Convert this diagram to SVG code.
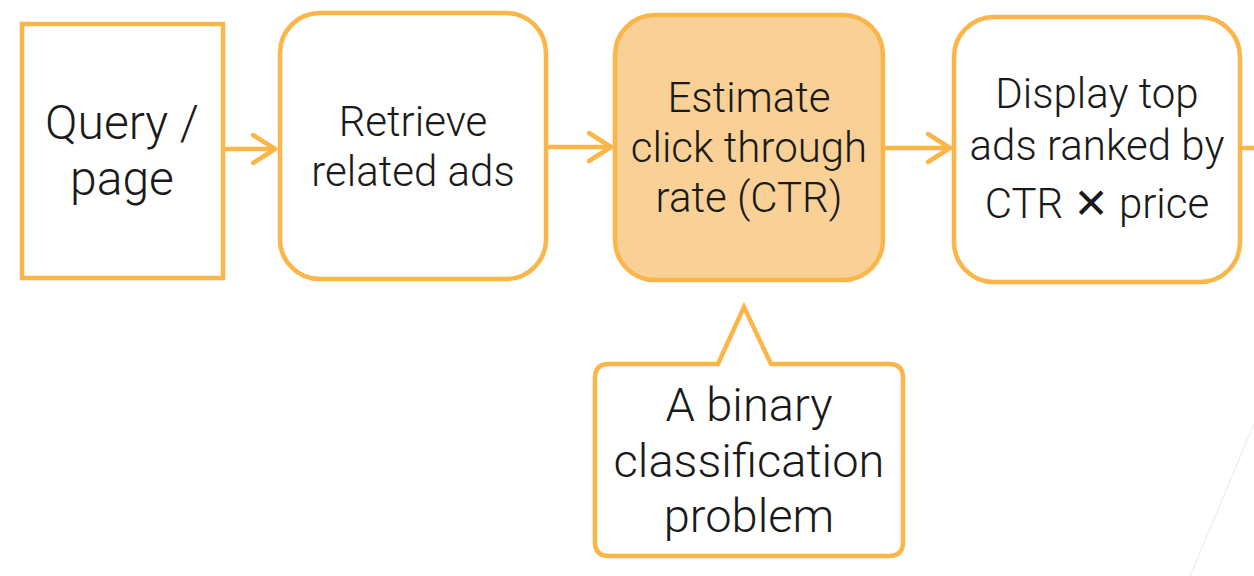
<svg xmlns="http://www.w3.org/2000/svg" width="1254" height="576" viewBox="0 0 1254 576">
<defs>
<style>
.box{fill:#ffffff;stroke:#FBB549;stroke-width:4.5}
.hl{fill:#F9D196;stroke:#FBB549;stroke-width:4.5}
.t{font-family:Roboto,"Liberation Sans",sans-serif;font-weight:300;fill:#1a1a1a;text-anchor:middle}
.c{stroke:#FBB549;stroke-width:4.5;fill:none;stroke-linecap:round;stroke-linejoin:round}
</style>
<marker id="arr" markerUnits="userSpaceOnUse" markerWidth="30" markerHeight="34" refX="24" refY="16" orient="auto">
<path d="M2,2 L24,16 L2,30" fill="none" stroke="#FBB549" stroke-width="4.5" stroke-linecap="round" stroke-linejoin="round"/>
</marker>
</defs>
<rect width="1254" height="576" fill="#ffffff"/>
<line x1="1254" y1="424" x2="1190" y2="576" stroke="#eeeeee" stroke-width="1.2"/>
<g id="connectors">
<line class="c" x1="225" y1="149" x2="275" y2="149" marker-end="url(#arr)"/>
<line class="c" x1="548" y1="147" x2="611" y2="147" marker-end="url(#arr)"/>
<line class="c" x1="885" y1="148" x2="950" y2="148" marker-end="url(#arr)"/>
<line class="c" x1="1242" y1="148" x2="1256" y2="148"/>
</g>
<g id="query">
<rect class="box" x="22" y="24" width="201" height="254"/>
<text class="t" font-size="48"><tspan x="122" y="139">Query /</tspan><tspan x="122" y="195">page</tspan></text>
</g>
<g id="retrieve">
<rect class="box" x="280" y="13" width="266" height="266" rx="40"/>
<text class="t" font-size="42"><tspan x="413" y="136">Retrieve</tspan><tspan x="413" y="186">related ads</tspan></text>
</g>
<g id="estimate">
<rect class="hl" x="615" y="15" width="268" height="265" rx="40"/>
<text class="t" font-size="42"><tspan x="749" y="112">Estimate</tspan><tspan x="749" y="162">click through</tspan><tspan x="749" y="212">rate (CTR)</tspan></text>
</g>
<g id="display">
<rect class="box" x="954" y="17" width="286" height="265" rx="40"/>
<text class="t" font-size="42"><tspan x="1097" y="108">Display top</tspan><tspan x="1097" y="160">ads ranked by</tspan><tspan x="1097" y="218">CTR <tspan font-weight="700" font-family="'DejaVu Sans',sans-serif">✕</tspan> price</tspan></text>
</g>
<g id="callout">
<path class="box" d="M609,364 L718,364 L744,307 L771,364 L889,364 Q903,364 903,378 L903,542 Q903,556 889,556 L609,556 Q595,556 595,542 L595,378 Q595,364 609,364 Z"/>
<text class="t" font-size="47"><tspan x="749" y="421">A binary</tspan><tspan x="749" y="477">classification</tspan><tspan x="749" y="532">problem</tspan></text>
</g>
</svg>
